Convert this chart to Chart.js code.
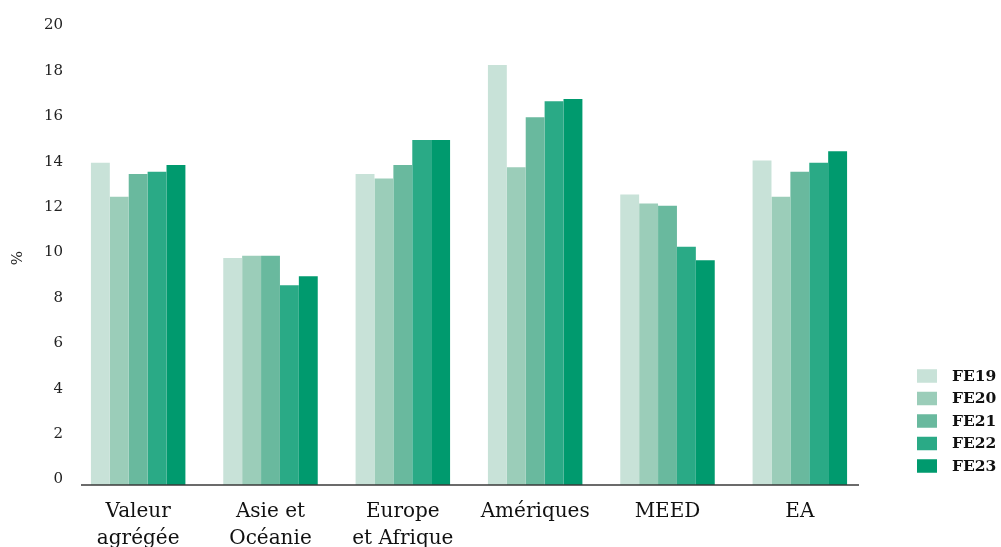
<!DOCTYPE html>
<html lang="fr">
<head>
<meta charset="utf-8">
<title>FE19–FE23 par région</title>
<script src="https://cdn.jsdelivr.net/npm/chart.js@4.4.1/dist/chart.umd.min.js"></script>
<style>
  html, body { margin: 0; padding: 0; background: #ffffff; }
  #wrap { position: relative; width: 1001px; height: 547px; }
</style>
</head>
<body>
<div id="wrap"><canvas id="chart" width="1001" height="547"></canvas></div>
<script>
// Regions on the horizontal axis (multi-line labels)
const categories = [
  ["Valeur", "agrégée"],
  ["Asie et", "Océanie"],
  ["Europe", "et Afrique"],
  ["Amériques"],
  ["MEED"],
  ["EA"]
];

// Series, in %
const seriesNames = ["FE19", "FE20", "FE21", "FE22", "FE23"];
const fe19 = [14.2, 10.0, 13.7, 18.5, 12.8, 14.3];
const fe20 = [12.7, 10.1, 13.5, 14.0, 12.4, 12.7];
const fe21 = [13.7, 10.1, 14.1, 16.2, 12.3, 13.8];
const fe22 = [13.8, 8.8, 15.2, 16.9, 10.5, 14.2];
const fe23 = [14.1, 9.2, 15.2, 17.0, 9.9, 14.7];

// Value axis ticks
const yTicks = [0, 2, 4, 6, 8, 10, 12, 14, 16, 18, 20];

const seriesValues = [fe19, fe20, fe21, fe22, fe23];
const seriesColors = ["#c8e2d8", "#9bcdb9", "#69b99e", "#2aaa86", "#009a6e"];

const SERIF = "'DejaVu Serif', 'Liberation Serif', serif";

// Baseline drawn slightly inset from the plot edges
const baselinePlugin = {
  id: "baseline",
  afterDatasetsDraw(chart) {
    const { ctx, chartArea } = chart;
    const y = chart.scales.y.getPixelForValue(0);
    ctx.save();
    ctx.strokeStyle = "#3a3a3a";
    ctx.lineWidth = 1.6;
    ctx.beginPath();
    ctx.moveTo(chartArea.left + 9, y);
    ctx.lineTo(chartArea.right - 7, y);
    ctx.stroke();
    ctx.restore();
  }
};

// Legend stacked at the lower right, built from the datasets
const sideLegendPlugin = {
  id: "sideLegend",
  afterDraw(chart) {
    const { ctx, chartArea } = chart;
    const sets = chart.data.datasets;
    const step = 22.5;
    const boxW = 20, boxH = 13.5;
    const x0 = chartArea.right + 51;
    const yLast = chartArea.bottom - 19;
    ctx.save();
    ctx.font = "bold 15.5px " + SERIF;
    ctx.textBaseline = "middle";
    ctx.textAlign = "left";
    sets.forEach((ds, i) => {
      const yc = yLast - (sets.length - 1 - i) * step;
      ctx.fillStyle = ds.backgroundColor;
      ctx.fillRect(x0, yc - boxH / 2, boxW, boxH);
      ctx.fillStyle = "#111111";
      ctx.fillText(ds.label, x0 + 35, yc + 0.5);
    });
    ctx.restore();
  }
};

new Chart(document.getElementById("chart"), {
  type: "bar",
  data: {
    labels: categories,
    datasets: seriesNames.map((name, i) => ({
      label: name,
      data: seriesValues[i],
      backgroundColor: seriesColors[i],
      borderWidth: 0,
      categoryPercentage: 0.714,
      barPercentage: 1.0
    }))
  },
  options: {
    responsive: false,
    animation: false,
    layout: { padding: { top: 31, right: 0, bottom: 0, left: 0 } },
    plugins: {
      tooltip: { enabled: false },
      legend: { display: false }
    },
    scales: {
      x: {
        grid: { display: false, drawTicks: false },
        border: { display: false },
        ticks: {
          color: "#111111",
          padding: 13,
          maxRotation: 0,
          autoSkip: false,
          font: { family: SERIF, size: 20, lineHeight: 1.35 }
        },
        afterFit(scale) { scale.height = 62; }
      },
      y: {
        min: 0,
        max: 20,
        afterBuildTicks(scale) { scale.ticks = yTicks.map(v => ({ value: v })); },
        grid: { display: false, drawTicks: false },
        border: { display: false },
        ticks: {
          color: "#222222",
          padding: 9,
          labelOffset: -5.5,
          font: { family: SERIF, size: 15 }
        },
        title: {
          display: true,
          text: "%",
          color: "#222222",
          padding: { top: 9, bottom: 0 },
          font: { family: SERIF, size: 15 }
        },
        afterFit(scale) { scale.width = 72; }
      },
      gap: {
        position: "right",
        display: true,
        grid: { display: false, drawTicks: false },
        border: { display: false },
        ticks: { display: false },
        afterFit(scale) { scale.width = 135; }
      }
    }
  },
  plugins: [baselinePlugin, sideLegendPlugin]
});
</script>
</body>
</html>
